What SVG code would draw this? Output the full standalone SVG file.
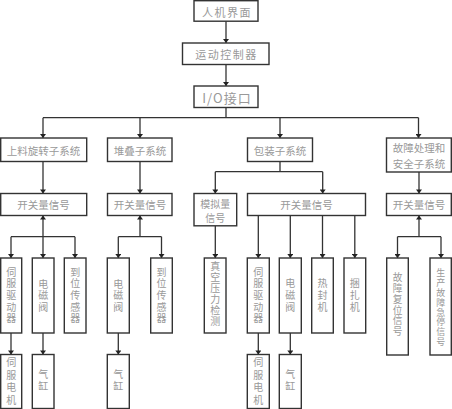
<svg xmlns="http://www.w3.org/2000/svg" width="452" height="409" viewBox="0 0 452 409">
<style>
rect{fill:#fff;stroke:#333;stroke-width:1.4}
text{font-family:"Noto Sans CJK SC","Liberation Serif",serif;fill:#999;font-size:10.5px;text-anchor:middle;dominant-baseline:central}
.t{font-size:11px;letter-spacing:1.5px}
.v{writing-mode:vertical-rl;font-size:10px;letter-spacing:1.6px}
#conn path,#conn line{stroke:#333;stroke-width:1.3;fill:none}
</style>
<defs>
<marker id="a" markerUnits="userSpaceOnUse" markerWidth="6" markerHeight="6" refX="3" refY="5" viewBox="0 0 6 6">
<path d="M0,1 L6,1 L3,5 Z" fill="#222"/>
</marker>
<marker id="u" markerUnits="userSpaceOnUse" markerWidth="6" markerHeight="6" refX="3" refY="1" viewBox="0 0 6 6">
<path d="M0,5 L6,5 L3,1 Z" fill="#222"/>
</marker>
</defs>

<g id="conn">
<line x1="226" y1="21" x2="226" y2="43" marker-end="url(#a)"/>
<line x1="226" y1="64.5" x2="226" y2="86" marker-end="url(#a)"/>
<line x1="226" y1="107.5" x2="226" y2="117.7"/>
<line x1="43" y1="117.7" x2="418.5" y2="117.7"/>
<line x1="43" y1="117.7" x2="43" y2="138" marker-end="url(#a)"/>
<line x1="140" y1="117.7" x2="140" y2="138" marker-end="url(#a)"/>
<line x1="280" y1="117.7" x2="280" y2="138" marker-end="url(#a)"/>
<line x1="418.5" y1="117.7" x2="418.5" y2="138" marker-end="url(#a)"/>
<line x1="43" y1="161.5" x2="43" y2="193.5" marker-end="url(#a)"/>
<line x1="140" y1="161.5" x2="140" y2="193.5" marker-end="url(#a)"/>
<line x1="419" y1="172" x2="419" y2="193.5" marker-end="url(#a)"/>
<path d="M280,161.5 V171.7 M215.3,171.7 H322.7"/>
<line x1="215.3" y1="171.7" x2="215.3" y2="193.5" marker-end="url(#a)"/>
<line x1="322.7" y1="171.7" x2="322.7" y2="193.5" marker-end="url(#a)"/>
<line x1="43" y1="236.7" x2="43" y2="215.5" marker-end="url(#u)"/>
<line x1="11" y1="236.7" x2="75" y2="236.7"/>
<line x1="11" y1="236.7" x2="11" y2="258" marker-end="url(#a)"/>
<line x1="43" y1="236.7" x2="43" y2="258" marker-end="url(#a)"/>
<line x1="75" y1="236.7" x2="75" y2="258" marker-end="url(#a)"/>
<line x1="140" y1="236.7" x2="140" y2="215.5" marker-end="url(#u)"/>
<line x1="118.3" y1="236.7" x2="161.5" y2="236.7"/>
<line x1="118.3" y1="236.7" x2="118.3" y2="258" marker-end="url(#a)"/>
<line x1="161.5" y1="236.7" x2="161.5" y2="258" marker-end="url(#a)"/>
<line x1="215.3" y1="226" x2="215.3" y2="258" marker-end="url(#a)"/>
<line x1="258.3" y1="215.5" x2="258.3" y2="258" marker-end="url(#a)"/>
<line x1="290.3" y1="215.5" x2="290.3" y2="258" marker-end="url(#a)"/>
<line x1="322.5" y1="215.5" x2="322.5" y2="258" marker-end="url(#a)"/>
<line x1="354.8" y1="215.5" x2="354.8" y2="258" marker-end="url(#a)"/>
<line x1="419" y1="236.7" x2="419" y2="215.5" marker-end="url(#u)"/>
<line x1="397.5" y1="236.7" x2="441" y2="236.7"/>
<line x1="397.5" y1="236.7" x2="397.5" y2="258" marker-end="url(#a)"/>
<line x1="441" y1="236.7" x2="441" y2="258" marker-end="url(#a)"/>
<line x1="11" y1="333" x2="11" y2="354.5" marker-end="url(#a)"/>
<line x1="43" y1="333" x2="43" y2="354.5" marker-end="url(#a)"/>
<line x1="118.3" y1="333" x2="118.3" y2="354.5" marker-end="url(#a)"/>
<line x1="258.3" y1="333" x2="258.3" y2="354.5" marker-end="url(#a)"/>
<line x1="290.3" y1="333" x2="290.3" y2="354.5" marker-end="url(#a)"/>
</g>

<g id="hmi"><rect x="194" y="0.7" width="64" height="20.5"/><text class="t" x="227" y="11.5">人机界面</text></g>
<g id="ctrl"><rect x="182.5" y="43" width="86.5" height="21.5"/><text class="t" x="226.5" y="54">运动控制器</text></g>
<g id="io"><rect x="194" y="86" width="64" height="21.5"/><text x="227" y="97" style="font-size:13px;letter-spacing:1px">I/O接口</text></g>

<g id="sub1"><rect x="0.7" y="138" width="86" height="23.5"/><text x="43.5" y="150">上料旋转子系统</text></g>
<g id="sub2"><rect x="107.5" y="138" width="64.5" height="23.5"/><text x="140" y="150">堆叠子系统</text></g>
<g id="sub3"><rect x="247.5" y="138" width="65" height="23.5"/><text x="280" y="150">包装子系统</text></g>
<g id="sub4"><rect x="386.5" y="138" width="64.8" height="34"/><text x="419" y="147.5">故障处理和</text><text x="419" y="163">安全子系统</text></g>

<g id="sw1"><rect x="0.7" y="193.5" width="86" height="22"/><text x="43.5" y="204.5">开关量信号</text></g>
<g id="sw2"><rect x="107.5" y="193.5" width="64.5" height="22"/><text x="140" y="204.5">开关量信号</text></g>
<g id="ana"><rect x="194" y="193.5" width="42.7" height="32.3"/><text style="font-size:10px"><tspan x="215.3" y="203">模拟量</tspan><tspan x="215.3" y="216.5">信号</tspan></text></g>
<g id="sw3"><rect x="247.5" y="193.5" width="118" height="22"/><text x="306.5" y="204.5">开关量信号</text></g>
<g id="sw4"><rect x="386.5" y="193.5" width="64.8" height="22"/><text x="419" y="204.5">开关量信号</text></g>

<g id="sd1"><rect x="0.7" y="258" width="21" height="75"/><text class="v" x="11.2" y="296">伺服驱动器</text></g>
<g id="em1"><rect x="32.3" y="258" width="21.7" height="75"/><text class="v" x="43.2" y="296.5">电磁阀</text></g>
<g id="pos1"><rect x="64.3" y="258" width="21.7" height="75"/><text class="v" x="75.2" y="296">到位传感器</text></g>
<g id="em2"><rect x="107.3" y="258" width="22" height="75"/><text class="v" x="118.3" y="296.5">电磁阀</text></g>
<g id="pos2"><rect x="150.7" y="258" width="21.6" height="75"/><text class="v" x="161.5" y="296">到位传感器</text></g>
<g id="vac"><rect x="204.3" y="258" width="21.7" height="75"/><text class="v" x="215.2" y="294.5" style="letter-spacing:1px">真空压力检测</text></g>
<g id="sd2"><rect x="247.3" y="258" width="22" height="75"/><text class="v" x="258.3" y="296">伺服驱动器</text></g>
<g id="em3"><rect x="279.3" y="258" width="22" height="75"/><text class="v" x="290.3" y="296">电磁阀</text></g>
<g id="heat"><rect x="311.7" y="258" width="21.6" height="75"/><text class="v" x="322.5" y="296">热封机</text></g>
<g id="bind"><rect x="344" y="258" width="21.7" height="75"/><text class="v" x="354.8" y="296">捆扎机</text></g>
<g id="reset"><rect x="386.7" y="258" width="21.6" height="97"/><text class="v" x="397.5" y="305" style="font-size:9.7px;letter-spacing:1px">故障复位信号</text></g>
<g id="estop"><rect x="430" y="258" width="21.3" height="97"/><text class="v" x="440.7" y="307.6" style="font-size:9px;letter-spacing:0.8px">生产故障急停信号</text></g>

<g id="motor1"><rect x="0.7" y="354.5" width="21" height="54"/><text class="v" x="11.2" y="382.5" style="letter-spacing:2.4px">伺服电机</text></g>
<g id="cyl1"><rect x="32.3" y="354.5" width="21.7" height="54"/><text class="v" x="43.2" y="381.5" style="letter-spacing:2px">气缸</text></g>
<g id="cyl2"><rect x="107.3" y="354.5" width="22" height="54"/><text class="v" x="118.3" y="381.5" style="letter-spacing:2px">气缸</text></g>
<g id="motor2"><rect x="247.3" y="354.5" width="22" height="54"/><text class="v" x="258.3" y="382.5" style="letter-spacing:2.4px">伺服电机</text></g>
<g id="cyl3"><rect x="279.3" y="354.5" width="22" height="54"/><text class="v" x="290.3" y="381.5" style="letter-spacing:2px">气缸</text></g>
</svg>
